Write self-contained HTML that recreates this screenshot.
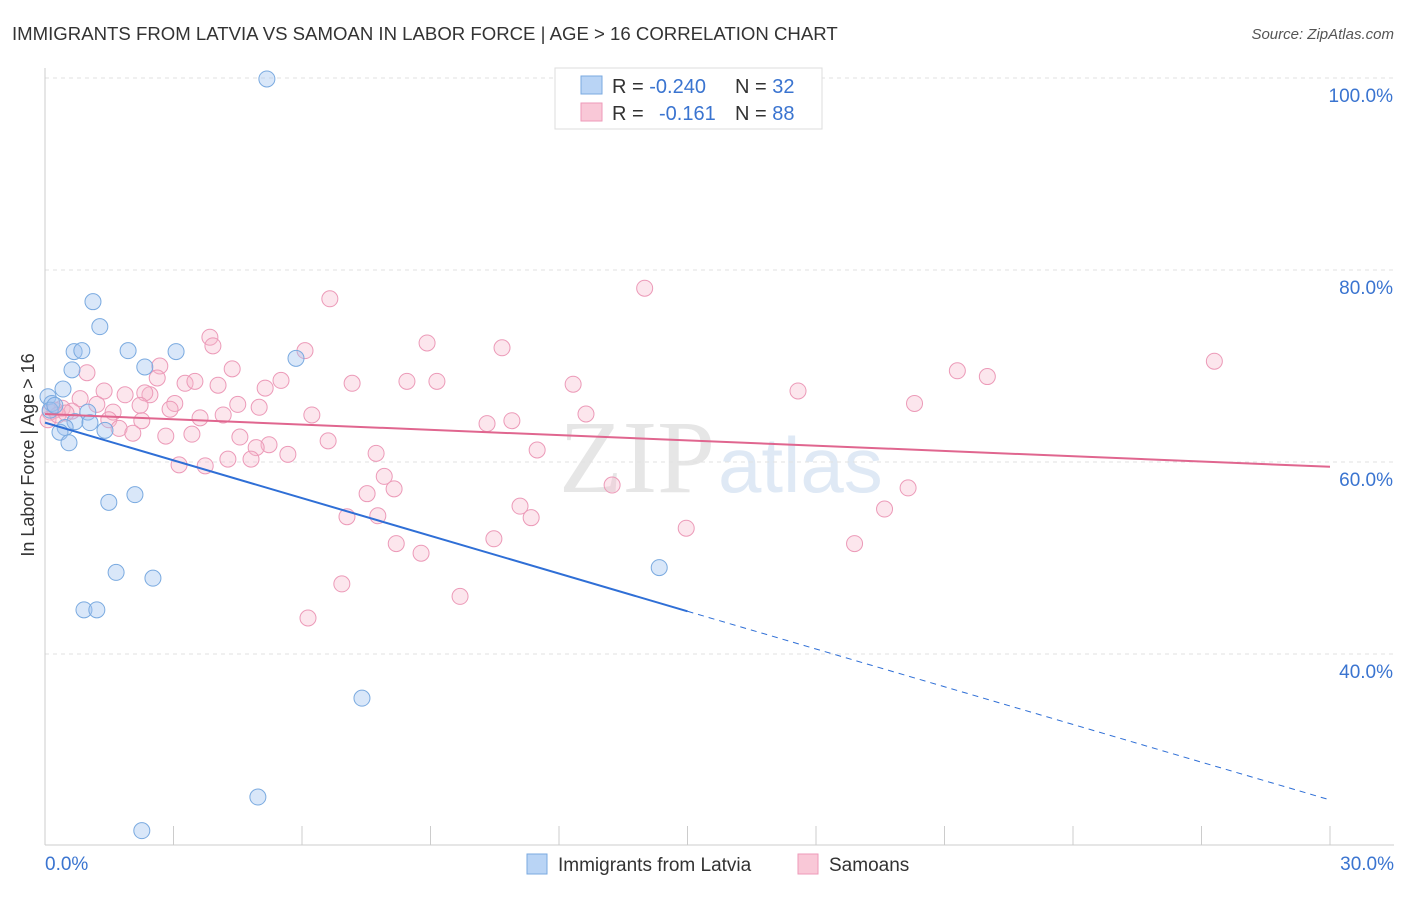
<!DOCTYPE html>
<html><head><meta charset="utf-8"><style>
body{margin:0;background:#fff;font-family:"Liberation Sans",sans-serif}
</style></head><body>
<svg id="c" width="1406" height="892" xmlns="http://www.w3.org/2000/svg" font-family="Liberation Sans, sans-serif">
<text x="12" y="40" font-size="18.6" fill="#333">IMMIGRANTS FROM LATVIA VS SAMOAN IN LABOR FORCE | AGE &gt; 16 CORRELATION CHART</text>
<text x="1394" y="39" font-size="15" fill="#555" font-style="italic" text-anchor="end">Source: ZipAtlas.com</text>
<text x="715" y="492" font-size="104" fill="#e6e6e6" text-anchor="end" font-family="Liberation Serif, serif">ZIP</text>
<text x="718" y="492" font-size="78" fill="#dfe9f5">atlas</text>
<g id="grid"></g><g id="axes"></g><g id="marks"></g>
<text transform="translate(34,455) rotate(-90)" font-size="18" fill="#333" text-anchor="middle">In Labor Force | Age &gt; 16</text>
<g>
<rect x="555" y="68" width="267" height="61" fill="#fff" stroke="#ddd"/>
<rect x="581" y="76" width="21" height="18" fill="#b9d4f5" stroke="#7aaae0"/>
<rect x="581" y="103" width="21" height="18" fill="#f9c8d7" stroke="#ee9ab8"/>
<text x="612" y="93" font-size="20" fill="#333">R = <tspan fill="#3a74d0">-0.240</tspan><tspan x="735">N = </tspan><tspan fill="#3a74d0">32</tspan></text>
<text x="612" y="120" font-size="20" fill="#333">R = <tspan x="659" fill="#3a74d0">-0.161</tspan><tspan x="735">N = </tspan><tspan fill="#3a74d0">88</tspan></text>
</g>
<g>
<rect x="527" y="854" width="20" height="20" fill="#b9d4f5" stroke="#7aaae0"/>
<text x="558" y="871" font-size="19" fill="#333">Immigrants from Latvia</text>
<rect x="798" y="854" width="20" height="20" fill="#f9c8d7" stroke="#ee9ab8"/>
<text x="829" y="871" font-size="19" fill="#333">Samoans</text>
</g>
</svg>
<script>
const yTicks=[40,60,80,100];
const yTickLabels=["40.0%","60.0%","80.0%","100.0%"];
const xEndLabels=["0.0%","30.0%"];
const blueX=[5.18,1.12,1.28,0.68,0.86,1.94,3.06,2.33,0.63,5.86,0.42,0.07,0.16,0.12,1.0,0.7,1.05,0.47,0.35,1.4,0.56,2.1,1.49,1.66,2.52,0.91,1.21,14.34,7.4,4.97,2.26,0.23];
const blueY=[99.9,76.7,74.1,71.5,71.6,71.6,71.5,69.9,69.6,70.8,67.6,66.8,66.1,65.4,65.2,64.2,64.1,63.6,63.1,63.3,62.0,56.6,55.8,48.5,47.9,44.6,44.6,49.0,35.4,25.1,21.6,65.9];
const pinkX=[6.65,14.0,3.85,3.92,8.92,10.67,6.07,27.3,2.68,0.98,4.37,21.3,22.0,2.62,3.27,3.5,5.51,7.17,8.45,9.15,12.33,4.04,5.14,17.58,1.38,1.87,2.45,2.33,0.82,1.21,2.22,3.03,4.5,5.0,20.3,0.4,0.63,1.59,2.92,3.62,4.16,6.23,12.63,2.26,1.49,10.32,10.9,1.73,2.05,2.82,3.43,4.55,6.61,5.23,4.93,11.49,7.73,5.67,4.27,4.81,3.13,3.74,7.92,13.24,8.15,20.15,7.52,11.09,19.6,7.05,7.77,11.35,14.97,10.48,8.2,18.9,8.78,6.93,9.69,6.14,0.12,0.23,0.07,0.3,0.49];
const pinkY=[77.0,78.1,73.0,72.1,72.4,71.9,71.6,70.5,70.0,69.3,69.7,69.5,68.9,68.75,68.2,68.4,68.5,68.2,68.4,68.4,68.1,68.0,67.7,67.4,67.4,67.0,67.0,67.2,66.6,66.0,65.9,66.1,66.0,65.7,66.1,65.6,65.3,65.2,65.5,64.6,64.9,64.9,65.0,64.3,64.4,64.0,64.3,63.5,63.0,62.7,62.9,62.6,62.2,61.8,61.5,61.25,60.9,60.8,60.3,60.3,59.7,59.6,58.5,57.6,57.2,57.3,56.7,55.4,55.1,54.3,54.4,54.2,53.1,52.0,51.5,51.5,50.5,47.3,46.0,43.75,65.2,65.4,64.4,64.9,65.1];
const blueTrend=[64.1,24.8];
const pinkTrend=[65.0,59.5];
const NS="http://www.w3.org/2000/svg";
const X=v=>45+v*1285/30, Y=v=>654-(v-40)*9.6;
function el(t,a,p){const e=document.createElementNS(NS,t);for(const k in a)e.setAttribute(k,a[k]);document.getElementById(p).appendChild(e);return e;}
yTicks.forEach((t,i)=>{
 const g=el('line',{x1:45,x2:1394,y1:Y(t),y2:Y(t),stroke:'#e2e2e2','stroke-dasharray':'4,4'},'grid');
 
 
 const l=el('text',{x:1393,y:Y(t)+24,'font-size':19,fill:'#3a74d0','text-anchor':'end'},'axes');l.textContent=yTickLabels[i];
 
 
});
const ax=el('line',{x1:45,x2:45,y1:68,y2:845,stroke:'#ccc'},'axes');


const bx=el('line',{x1:45,x2:1394,y1:845,y2:845,stroke:'#ccc'},'axes');


for(let i=0;i<=10;i++){const t=el('line',{x1:X(i*3),x2:X(i*3),y1:826,y2:845,stroke:'#ccc'},'axes');
 
 }
[[0,'start',45],[1,'end',1394]].forEach(([i,a,x])=>{const t=el('text',{x:x,y:870,'font-size':19,fill:'#3a74d0','text-anchor':a},'axes');t.textContent=xEndLabels[i];
 
 });
pinkX.forEach((x,i)=>{const c=el('circle',{cx:X(x),cy:Y(pinkY[i]),r:8,fill:'rgba(246,184,204,0.35)',stroke:'#ec9ab8','stroke-width':1},'marks');
 
 });
blueX.forEach((x,i)=>{const c=el('circle',{cx:X(x),cy:Y(blueY[i]),r:8,fill:'rgba(160,196,240,0.4)',stroke:'#7aaae0','stroke-width':1},'marks');
 
 });
const bt=v=>blueTrend[0]+(blueTrend[1]-blueTrend[0])*v/30;
const l1=el('line',{x1:X(0),y1:Y(bt(0)),x2:X(15),y2:Y(bt(15)),stroke:'#2f6fd6','stroke-width':2},'marks');


const l2=el('line',{x1:X(15),y1:Y(bt(15)),x2:X(30),y2:Y(bt(30)),stroke:'#2f6fd6','stroke-width':1,'stroke-dasharray':'6,5'},'marks');


const l3=el('line',{x1:X(0),y1:Y(pinkTrend[0]),x2:X(30),y2:Y(pinkTrend[1]),stroke:'#e0668f','stroke-width':2},'marks');


</script>
</body></html>
